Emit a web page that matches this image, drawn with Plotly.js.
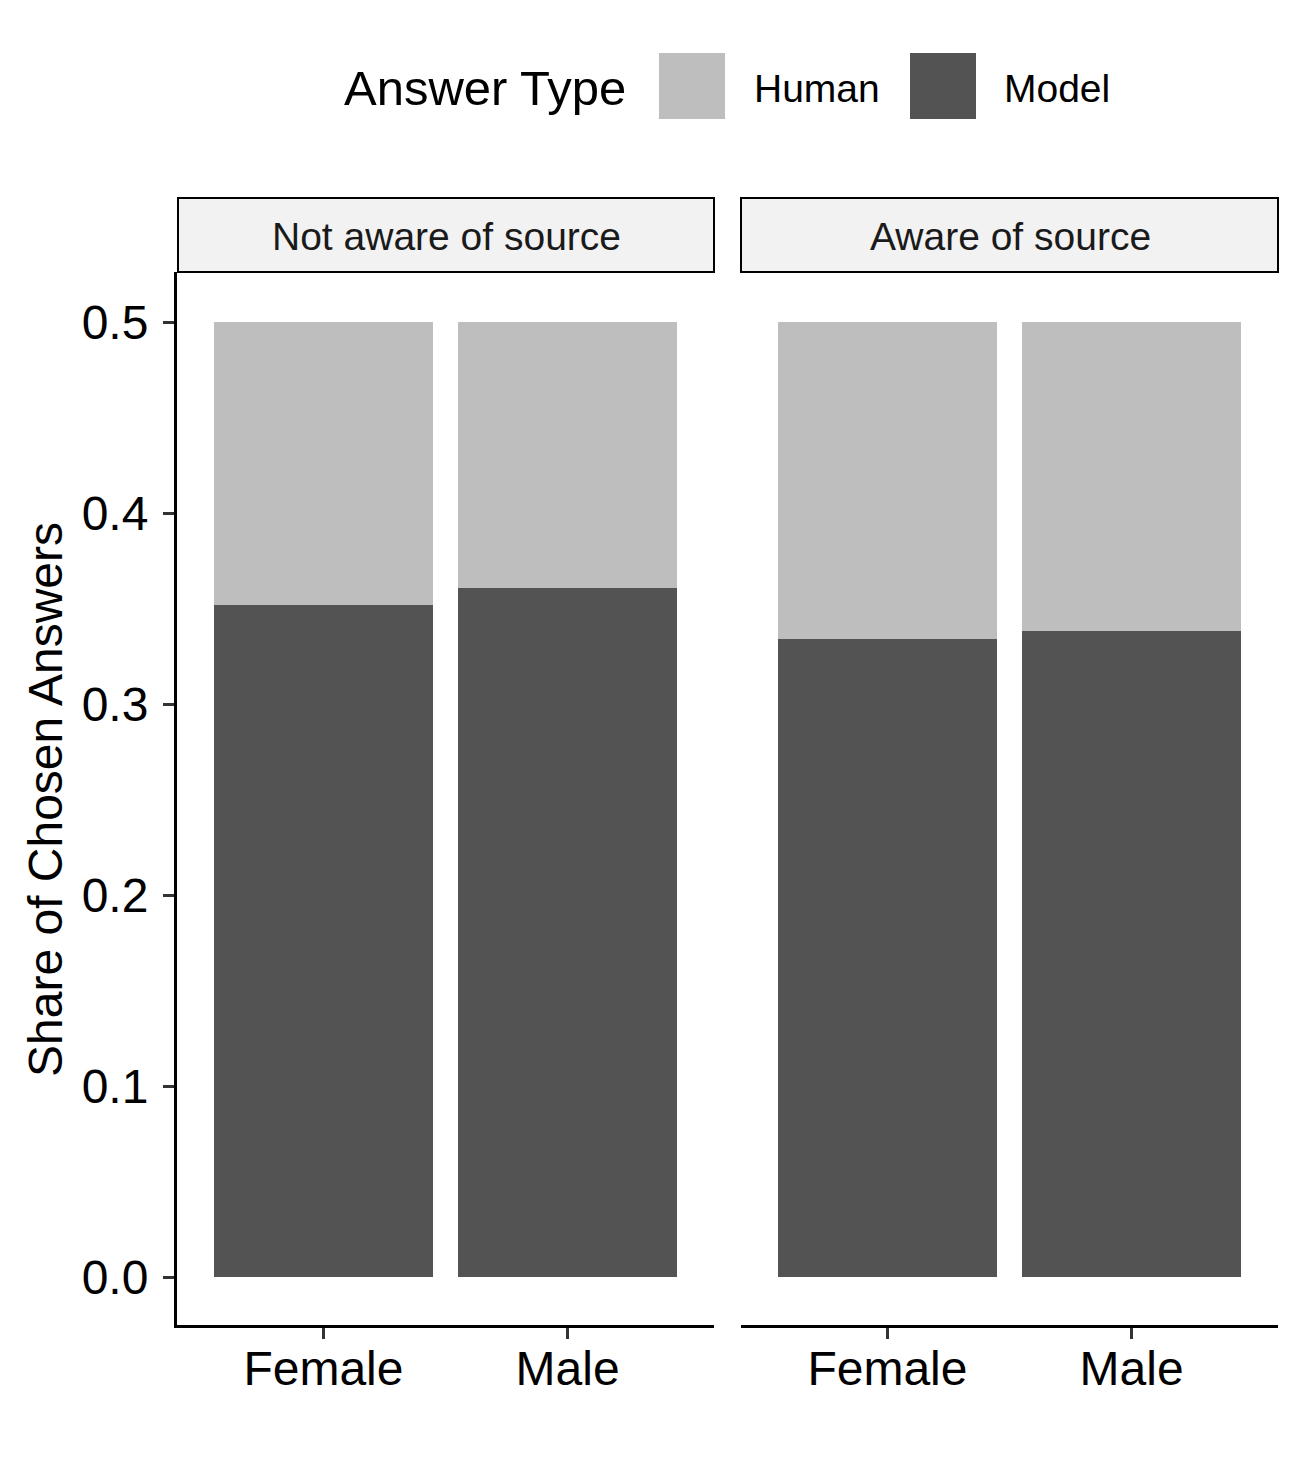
<!DOCTYPE html>
<html>
<head>
<meta charset="utf-8">
<script src="https://cdn.plot.ly/plotly-3.0.1.min.js"></script>
<style>html,body{margin:0;padding:0;background:#fff;}#chart{width:1304px;height:1479px;}</style>
</head>
<body>
<div id="chart"></div>
<script>
// ---- data ----
const categories = ['Female', 'Male'];
const facets = ['Not aware of source', 'Aware of source'];
const answerTypes = ['Human', 'Model'];
const modelNotAware = [0.352, 0.361];
const humanNotAware = [0.148, 0.139];
const modelAware = [0.334, 0.338];
const humanAware = [0.166, 0.162];
const yTicks = [0.0, 0.1, 0.2, 0.3, 0.4, 0.5];

// ---- style ----
const W = 1304, H = 1479;
const FONT = 'Liberation Sans, Arial, Helvetica, sans-serif';
const colHuman = '#BEBEBE', colModel = '#535353';
const px = x => x / W;
const py = y => 1 - y / H;

const traces = [
  {type: 'bar', x: categories, y: modelNotAware, name: answerTypes[1], marker: {color: colModel}, xaxis: 'x', yaxis: 'y', showlegend: false, hoverinfo: 'skip'},
  {type: 'bar', x: categories, y: humanNotAware, name: answerTypes[0], marker: {color: colHuman}, xaxis: 'x', yaxis: 'y', showlegend: false, hoverinfo: 'skip'},
  {type: 'bar', x: categories, y: modelAware, name: answerTypes[1], marker: {color: colModel}, xaxis: 'x2', yaxis: 'y', showlegend: false, hoverinfo: 'skip'},
  {type: 'bar', x: categories, y: humanAware, name: answerTypes[0], marker: {color: colHuman}, xaxis: 'x2', yaxis: 'y', showlegend: false, hoverinfo: 'skip'}
];

const xCommon = {
  type: 'category', range: [-0.6, 1.6], anchor: 'y',
  showline: true, linecolor: '#000', linewidth: 3,
  ticks: 'outside', ticklen: 11, tickwidth: 3, tickcolor: '#333333',
  tickfont: {family: FONT, size: 48, color: '#000'},
  showgrid: false, zeroline: false, fixedrange: true, ticklabelstandoff: -12
};

const layout = {
  width: W, height: H,
  margin: {l: 0, r: 0, t: 0, b: 0},
  paper_bgcolor: '#fff', plot_bgcolor: 'rgba(0,0,0,0)',
  barmode: 'stack', bargap: 0.1,
  showlegend: false,
  xaxis: Object.assign({}, xCommon, {domain: [px(177), px(714)]}),
  xaxis2: Object.assign({}, xCommon, {domain: [px(741), px(1278)]}),
  yaxis: {
    domain: [py(1325), py(272)], range: [-0.0251, 0.5262], anchor: 'x',
    tickvals: yTicks, ticktext: yTicks.map(v => v.toFixed(1)),
    showline: true, linecolor: '#000', linewidth: 3,
    ticks: 'outside', ticklen: 11, tickwidth: 3, tickcolor: '#333333',
    tickfont: {family: FONT, size: 48, color: '#000'},
    showgrid: false, zeroline: false, fixedrange: true, ticklabelstandoff: 5
  },
  shapes: [
    // facet strips
    {type: 'rect', xref: 'paper', yref: 'paper', x0: px(178), x1: px(714), y0: py(272), y1: py(198), fillcolor: '#F2F2F2', line: {color: '#000', width: 2}},
    {type: 'rect', xref: 'paper', yref: 'paper', x0: px(741), x1: px(1278), y0: py(272), y1: py(198), fillcolor: '#F2F2F2', line: {color: '#000', width: 2}},
    // legend keys
    {type: 'rect', xref: 'paper', yref: 'paper', x0: px(659), x1: px(725), y0: py(119), y1: py(53), fillcolor: colHuman, line: {width: 0}},
    {type: 'rect', xref: 'paper', yref: 'paper', x0: px(910), x1: px(976), y0: py(119), y1: py(53), fillcolor: colModel, line: {width: 0}}
  ],
  annotations: [
    {xref: 'paper', yref: 'paper', x: px(446), y: py(236), text: facets[0], showarrow: false, xanchor: 'center', yanchor: 'middle', font: {family: FONT, size: 39, color: '#1A1A1A'}},
    {xref: 'paper', yref: 'paper', x: px(1010), y: py(236), text: facets[1], showarrow: false, xanchor: 'center', yanchor: 'middle', font: {family: FONT, size: 39, color: '#1A1A1A'}},
    {xref: 'paper', yref: 'paper', x: px(45), y: py(800), text: 'Share of Chosen Answers', textangle: -90, showarrow: false, xanchor: 'center', yanchor: 'middle', font: {family: FONT, size: 48, color: '#000'}},
    {xref: 'paper', yref: 'paper', x: px(342), y: py(88), text: 'Answer Type', showarrow: false, xanchor: 'left', yanchor: 'middle', font: {family: FONT, size: 49, color: '#000'}},
    {xref: 'paper', yref: 'paper', x: px(752), y: py(88), text: answerTypes[0], showarrow: false, xanchor: 'left', yanchor: 'middle', font: {family: FONT, size: 39, color: '#000'}},
    {xref: 'paper', yref: 'paper', x: px(1002), y: py(88), text: answerTypes[1], showarrow: false, xanchor: 'left', yanchor: 'middle', font: {family: FONT, size: 39, color: '#000'}}
  ]
};

Plotly.newPlot('chart', traces, layout, {staticPlot: true, displayModeBar: false});
</script>
</body>
</html>
